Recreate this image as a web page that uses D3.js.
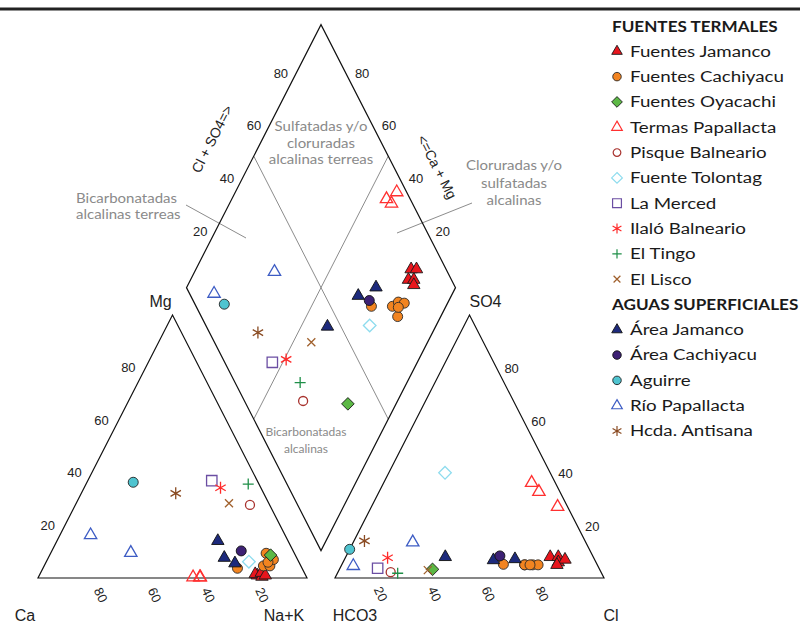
<!DOCTYPE html>
<html>
<head>
<meta charset="utf-8">
<script src="https://cdn.jsdelivr.net/npm/d3@7"></script>
<style>
  html, body { margin: 0; padding: 0; background: #fff; }
  svg { display: block; }
</style>
</head>
<body>
<svg id="chart" width="800" height="625"></svg>
<script>
// ---- Sample groups (legend order) ----
const thermalGroups = ["Fuentes Jamanco", "Fuentes Cachiyacu", "Fuentes Oyacachi", "Termas Papallacta",
  "Pisque Balneario", "Fuente Tolontag", "La Merced", "Ilaló Balneario", "El Tingo", "El Lisco"];
const surfaceGroups = ["Área Jamanco", "Área Cachiyacu", "Aguirre", "Río Papallacta", "Hcda. Antisana"];
const legendHeaders = ["FUENTES TERMALES", "AGUAS SUPERFICIALES"];

// ---- Samples: % meq of cations (Mg, Na+K; Ca is the rest) and anions (SO4, Cl; HCO3 is the rest) ----
const sampleGroup = [
  "Fuentes Jamanco", "Fuentes Jamanco", "Fuentes Jamanco", "Fuentes Jamanco", "Fuentes Jamanco",
  "Fuentes Cachiyacu", "Fuentes Cachiyacu", "Fuentes Cachiyacu", "Fuentes Cachiyacu", "Fuentes Cachiyacu", "Fuentes Cachiyacu",
  "Fuentes Oyacachi",
  "Termas Papallacta", "Termas Papallacta", "Termas Papallacta",
  "Pisque Balneario", "Fuente Tolontag", "La Merced", "Ilaló Balneario", "El Tingo", "El Lisco",
  "Área Jamanco", "Área Jamanco", "Área Jamanco",
  "Área Cachiyacu", "Aguirre",
  "Río Papallacta", "Río Papallacta",
  "Hcda. Antisana"
];
const cationMg  = [1, 1.5, 0.5, 2, 1,   3.7, 9.4, 4.6, 4.6, 7, 6,   8.7,   0.3, 0.3, 0.3,
                   27.8, 6.2, 37, 34.3, 35.7, 28.4,   14.1, 7.7, 5.6,   10.3, 36.4,   16.3, 9.6,   32.2];
const cationNaK = [81, 80, 83, 82, 84,   72.3, 80.1, 81.5, 83.9, 84, 82.5,   82.1,   57.5, 60.2, 60,
                   64.9, 75.3, 46.1, 50.7, 60.3, 56.8,   59.8, 65.4, 70.4,   70.4, 17.2,   11.4, 29.7,   35.1];
const anionSO4  = [8, 8, 6, 7, 5,   5.2, 5, 5, 5, 5, 5,   3.3,   36.2, 32.8, 27.1,
                   2.2, 40, 3.7, 7.7, 1.8, 3,   8, 6.8, 7.2,   8.4, 10.9,   4.6, 13.6,   14.1];
const anionCl   = [76, 79, 80, 82, 80,   60, 68, 71, 73, 68, 70,   34.6,   55, 59.4, 69.2,
                   19.6, 20.9, 14, 15.7, 22.4, 33,   37, 55.5, 63.3,   57.1, 0,   4.5, 22.1,   3.9];

// ---- Axis ticks and labels ----
const tickValues = [20, 40, 60, 80];
const cornerLabels = { ca: "Ca", nak: "Na+K", mg: "Mg", hco3: "HCO3", cl: "Cl", so4: "SO4" };
const diamondTitles = ["Cl + SO4=>", "<=Ca + Mg"];
const facies = {
  sulfate: ["Sulfatadas y/o", "cloruradas", "alcalinas terreas"],
  chloride: ["Cloruradas y/o", "sulfatadas", "alcalinas"],
  bicarbEarth: ["Bicarbonatadas", "alcalinas terreas"],
  bicarbAlk: ["Bicarbonatadas", "alcalinas"]
};

// ---- Marker styles ----
const markerStyle = {
  "Fuentes Jamanco":   { shape: "triangle", fill: "#e8161d", stroke: "#1a1a1a", r: 6.2 },
  "Fuentes Cachiyacu": { shape: "circle",   fill: "#f28420", stroke: "#2a2a2a", r: 5 },
  "Fuentes Oyacachi":  { shape: "diamond",  fill: "#5cb845", stroke: "#1a1a1a", r: 6.3 },
  "Termas Papallacta": { shape: "triangle", fill: "none", stroke: "#ff3030", r: 6.2 },
  "Pisque Balneario":  { shape: "circle",   fill: "none", stroke: "#a8322e", r: 4.5 },
  "Fuente Tolontag":   { shape: "diamond",  fill: "none", stroke: "#8edcee", r: 6.3 },
  "La Merced":         { shape: "square",   fill: "none", stroke: "#6b4ea3", r: 5.2 },
  "Ilaló Balneario":   { shape: "asterisk", fill: "none", stroke: "#ff2a2a", r: 6 },
  "El Tingo":          { shape: "plus",     fill: "none", stroke: "#1f8f48", r: 5.5 },
  "El Lisco":          { shape: "cross",    fill: "none", stroke: "#a0602c", r: 4 },
  "Área Jamanco":      { shape: "triangle", fill: "#1d2a7c", stroke: "#111", r: 6.2 },
  "Área Cachiyacu":    { shape: "circle",   fill: "#3d2174", stroke: "#111", r: 5 },
  "Aguirre":           { shape: "circle",   fill: "#4fc4d0", stroke: "#222", r: 5 },
  "Río Papallacta":    { shape: "triangle", fill: "none", stroke: "#3d5cc4", r: 6.2 },
  "Hcda. Antisana":    { shape: "asterisk", fill: "none", stroke: "#8a4b22", r: 6 }
};

// Custom d3.symbol types; "size" is used as a half-width
const symbolTypes = {
  triangle: { draw(ctx, r) {
    const h = r * Math.sqrt(3);
    ctx.moveTo(0, -2 * h / 3); ctx.lineTo(r, h / 3); ctx.lineTo(-r, h / 3); ctx.closePath();
  } },
  circle: { draw(ctx, r) { ctx.moveTo(r, 0); ctx.arc(0, 0, r, 0, 2 * Math.PI); } },
  diamond: { draw(ctx, r) {
    ctx.moveTo(0, -r); ctx.lineTo(r, 0); ctx.lineTo(0, r); ctx.lineTo(-r, 0); ctx.closePath();
  } },
  square: { draw(ctx, r) { ctx.rect(-r, -r, 2 * r, 2 * r); } },
  plus: { draw(ctx, r) { ctx.moveTo(-r, 0); ctx.lineTo(r, 0); ctx.moveTo(0, -r); ctx.lineTo(0, r); } },
  cross: { draw(ctx, r) { ctx.moveTo(-r, -r); ctx.lineTo(r, r); ctx.moveTo(-r, r); ctx.lineTo(r, -r); } },
  asterisk: { draw(ctx, r) {
    ctx.moveTo(0, -r); ctx.lineTo(0, r);
    const a = Math.PI / 6;
    ctx.moveTo(-r * Math.cos(a), -r * Math.sin(a)); ctx.lineTo(r * Math.cos(a), r * Math.sin(a));
    ctx.moveTo(-r * Math.cos(a), r * Math.sin(a)); ctx.lineTo(r * Math.cos(a), -r * Math.sin(a));
  } }
};
const symbolPath = (group, k = 1) => {
  const st = markerStyle[group];
  return d3.symbol().type(symbolTypes[st.shape]).size(st.r * k)();
};

// ---- Layout scales ----
const triWidth = 269, triHeight = 263;
const cationX = d3.scaleLinear().domain([0, 100]).range([38, 38 + triWidth]);
const anionX  = d3.scaleLinear().domain([0, 100]).range([335, 335 + triWidth]);
const triY    = d3.scaleLinear().domain([0, 100]).range([578, 578 - triHeight]);
const gap = anionX(0) - cationX(100);
const diamondCenterX = (anionX(0) + cationX(100)) / 2;
const diamondBottom = triY(0) - (gap / 2) * (triHeight / (triWidth / 2));
const diamondX = d3.scaleLinear().domain([-100, 100]).range([diamondCenterX - triWidth / 2, diamondCenterX + triWidth / 2]);
const diamondY = d3.scaleLinear().domain([0, 200]).range([diamondBottom, diamondBottom - 2 * triHeight]);

const cationPos  = (mg, nak) => [cationX(nak + mg / 2), triY(mg)];
const anionPos   = (so4, cl) => [anionX(cl + so4 / 2), triY(so4)];
const diamondPos = (caMg, clSo4) => [diamondX(clSo4 - caMg), diamondY(caMg + clSo4)];

const svg = d3.select("#chart");
const axisFont = "'Liberation Sans', Arial, sans-serif";
const textFont = "Lato, 'Open Sans', sans-serif";

// Top rule
svg.append("line").attr("x1", 0).attr("x2", 800).attr("y1", 9).attr("y2", 9)
  .attr("stroke", "#222").attr("stroke-width", 3);

// ---- Facies division lines (grey) ----
const grey = svg.append("g").attr("stroke", "#8c8c8c").attr("stroke-width", 1).attr("fill", "none");
const line = d3.line();
grey.append("path").attr("d", line([diamondPos(100, 50), diamondPos(0, 50)]));
grey.append("path").attr("d", line([diamondPos(50, 100), diamondPos(50, 0)]));
grey.append("path").attr("d", line([[186, 205], [246, 238]]));
grey.append("path").attr("d", line([[397, 233], [472, 203]]));

// ---- Outlines ----
const outline = svg.append("g").attr("stroke", "#111").attr("stroke-width", 1.2).attr("fill", "none");
outline.append("path").attr("d", line([cationPos(0, 0), cationPos(0, 100), cationPos(100, 0)]) + "Z");
outline.append("path").attr("d", line([anionPos(0, 0), anionPos(0, 100), anionPos(100, 0)]) + "Z");
outline.append("path").attr("d", line([diamondPos(0, 0), diamondPos(100, 0), diamondPos(100, 100), diamondPos(0, 100)]) + "Z");

// ---- Tick labels ----
const ticks = svg.append("g").attr("font-family", axisFont).attr("font-size", 13).attr("fill", "#222");
tickValues.forEach(t => {
  // Mg along left edge of cation triangle
  let p = cationPos(t, 0);
  ticks.append("text").attr("x", p[0] - 10).attr("y", p[1]).attr("dy", "0.35em")
    .attr("text-anchor", "end").text(t);
  // Ca along cation base
  p = cationPos(0, 100 - t);
  ticks.append("text").attr("transform", `translate(${p[0] + 9},${p[1] + 17}) rotate(65)`)
    .attr("text-anchor", "middle").attr("dy", "0.35em").text(t);
  // Cl along anion base
  p = anionPos(0, t);
  ticks.append("text").attr("transform", `translate(${p[0] - 8},${p[1] + 16}) rotate(65)`)
    .attr("text-anchor", "middle").attr("dy", "0.35em").text(t);
  // SO4 along right edge of anion triangle
  p = anionPos(t, 100 - t);
  ticks.append("text").attr("x", p[0] + 8).attr("y", p[1] + 1).attr("dy", "0.35em")
    .attr("text-anchor", "start").text(t);
  // Cl + SO4 on upper-left diamond edge
  p = diamondPos(100, t);
  ticks.append("text").attr("x", p[0] - 6).attr("y", p[1] - 4).attr("dy", "0.35em")
    .attr("text-anchor", "end").text(t);
  // Ca + Mg on upper-right diamond edge
  p = diamondPos(t, 100);
  ticks.append("text").attr("x", p[0] + 7).attr("y", p[1] - 4).attr("dy", "0.35em")
    .attr("text-anchor", "start").text(t);
});

// ---- Corner labels ----
const corners = svg.append("g").attr("font-family", axisFont).attr("font-size", 16).attr("fill", "#222")
  .attr("text-anchor", "middle");
const corner = (txt, x, y) => corners.append("text").attr("x", x).attr("y", y).attr("dy", "0.35em").text(txt);
corner(cornerLabels.mg, cationPos(100, 0)[0] - 12, 301);
corner(cornerLabels.so4, anionPos(100, 0)[0] + 16, 301);
corner(cornerLabels.ca, 25, 615);
corner(cornerLabels.nak, 284, 615);
corner(cornerLabels.hco3, 355, 615);
corner(cornerLabels.cl, 611, 615);

// Rotated diamond axis titles
const edgeAngle = Math.atan2(diamondPos(100, 100)[1] - diamondPos(100, 0)[1],
                             diamondPos(100, 100)[0] - diamondPos(100, 0)[0]) * 180 / Math.PI;
svg.append("text").attr("transform", `translate(212,139) rotate(${edgeAngle})`)
  .attr("font-family", axisFont).attr("font-size", 14).attr("fill", "#222")
  .attr("text-anchor", "middle").attr("dy", "0.35em").text(diamondTitles[0]);
svg.append("text").attr("transform", `translate(437,167) rotate(${-edgeAngle})`)
  .attr("font-family", axisFont).attr("font-size", 14).attr("fill", "#222")
  .attr("text-anchor", "middle").attr("dy", "0.35em").text(diamondTitles[1]);

// ---- Facies names ----
const fac = svg.append("g").attr("font-family", textFont).attr("fill", "#8a8a8a");
const block = (lines, x, y0, step, anchor, size, stretch) => lines.forEach((s, i) =>
  fac.append("text").attr("transform", `translate(${x},${y0 + i * step}) scale(${stretch},1)`)
    .attr("font-size", size).attr("dy", "0.35em").attr("text-anchor", anchor).text(s));
block(facies.sulfate, 321, 127, 16.5, "middle", 12.5, 1.2);
block(facies.chloride, 514, 166, 17.5, "middle", 12.5, 1.2);
block(facies.bicarbEarth, 76, 199, 15.5, "start", 12.5, 1.2);
block(facies.bicarbAlk, 306, 432, 17, "middle", 12, 1.0);

// ---- Sample markers ----
const samples = sampleGroup.map((g, i) => ({
  group: g, mg: cationMg[i], nak: cationNaK[i], so4: anionSO4[i], cl: anionCl[i]
}));
const allGroups = thermalGroups.concat(surfaceGroups);
samples.sort((a, b) => allGroups.indexOf(a.group) - allGroups.indexOf(b.group));

const plotMarkers = (posFn) => {
  const g = svg.append("g");
  g.selectAll("path").data(samples).join("path")
    .attr("transform", d => { const p = posFn(d); return `translate(${p[0]},${p[1]})`; })
    .attr("d", d => symbolPath(d.group))
    .attr("fill", d => markerStyle[d.group].fill)
    .attr("stroke", d => markerStyle[d.group].stroke)
    .attr("stroke-width", d => markerStyle[d.group].fill === "none" ? 1.3 : 0.9);
};
plotMarkers(d => cationPos(d.mg, d.nak));
plotMarkers(d => anionPos(d.so4, d.cl));
plotMarkers(d => diamondPos(100 - d.nak, d.so4 + d.cl));

// ---- Legend ----
const legend = svg.append("g").attr("font-family", textFont).attr("fill", "#1a1a1a");
const legendRows = [];
legendRows.push({ header: legendHeaders[0] });
thermalGroups.forEach(g => legendRows.push({ group: g }));
legendRows.push({ header: legendHeaders[1] });
surfaceGroups.forEach(g => legendRows.push({ group: g }));
const rowY = d3.scaleLinear().domain([0, legendRows.length - 1]).range([26, 431]);
legendRows.forEach((row, i) => {
  const y = rowY(i);
  if (row.header) {
    legend.append("text").attr("transform", `translate(612,${y}) scale(1.07,1)`).attr("dy", "0.35em")
      .attr("font-size", 16).attr("font-weight", "bold").text(row.header);
  } else {
    const st = markerStyle[row.group];
    legend.append("path").attr("transform", `translate(617,${y})`)
      .attr("d", symbolPath(row.group, 0.85))
      .attr("fill", st.fill).attr("stroke", st.stroke)
      .attr("stroke-width", st.fill === "none" ? 1.2 : 0.9);
    legend.append("text").attr("transform", `translate(630,${y}) scale(1.21,1)`).attr("dy", "0.35em")
      .attr("font-size", 15.5).text(row.group);
  }
});
</script>
</body>
</html>
